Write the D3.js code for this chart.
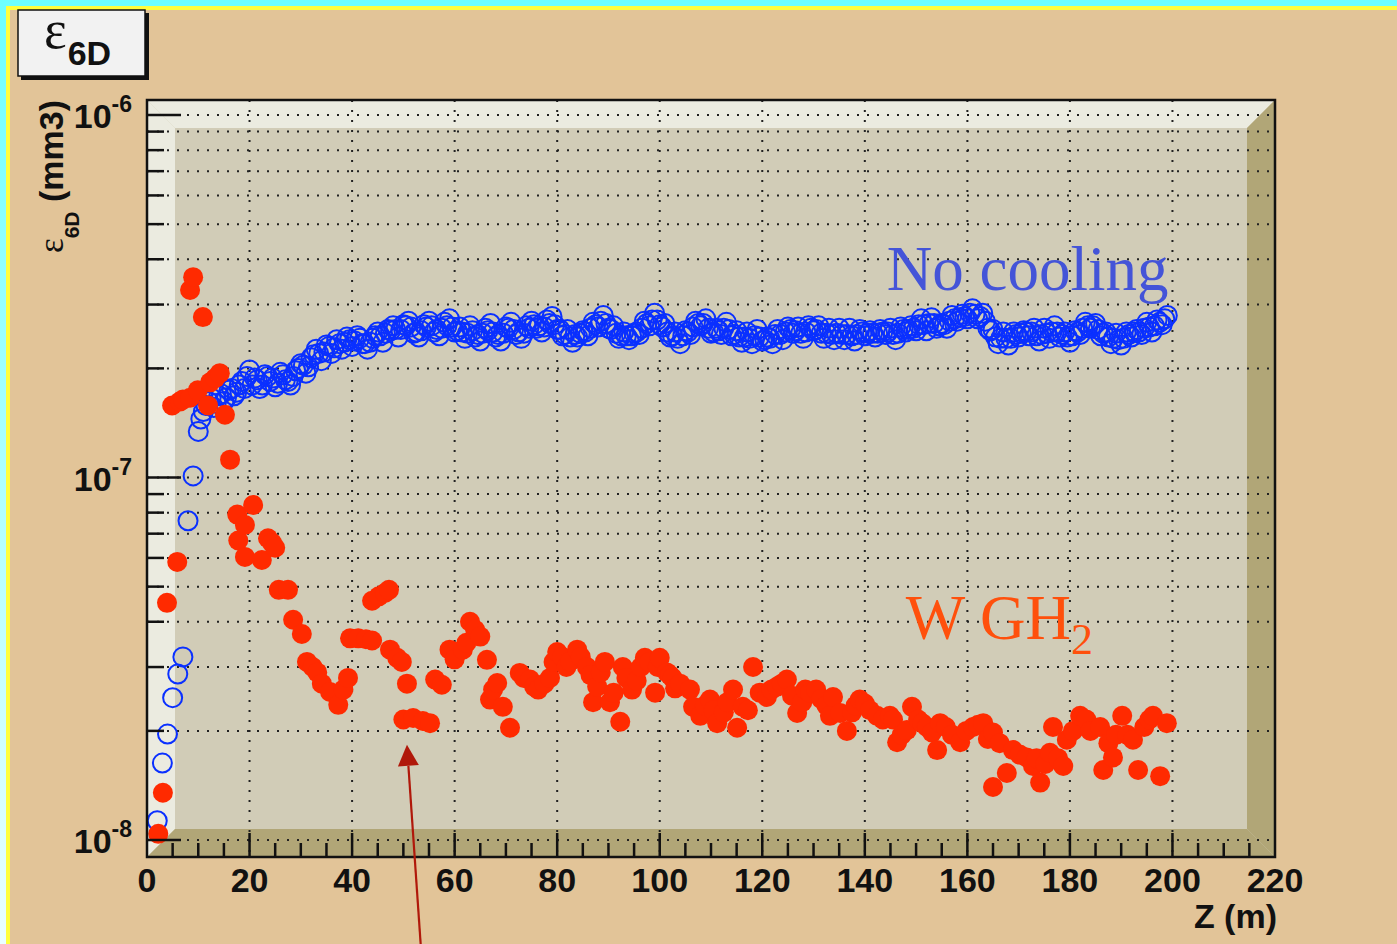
<!DOCTYPE html>
<html>
<head>
<meta charset="utf-8">
<script src="https://cdn.jsdelivr.net/npm/d3@7"></script>
<style>
html, body { margin: 0; padding: 0; background: #e2c498; }
svg { display: block; }
</style>
</head>
<body>
<svg id="chart" width="1397" height="944"></svg>
<script>
// values are in units of 1e-7 mm3
const unit = 1e-7;

// "No cooling": one point per metre from z = 2 to 199
const blueZ = d3.range(2, 200);
const blueV = [
  0.113, 0.163, 0.196, 0.247, 0.287, 0.32, 0.76, 1.01, 1.34,
  1.52, 1.62, 1.56, 1.68, 1.62, 1.74, 1.68, 1.80, 1.76, 1.98,
  1.88, 1.76, 1.92, 1.84, 1.78, 1.95, 1.86, 1.80, 1.97, 2.06,
  1.94, 2.14, 2.26, 2.10, 2.32, 2.20, 2.40, 2.26, 2.44, 2.30,
  2.46, 2.34, 2.26, 2.42, 2.52, 2.36, 2.56, 2.62, 2.44, 2.64,
  2.70, 2.50, 2.44, 2.64, 2.70, 2.52, 2.46, 2.68, 2.74, 2.52,
  2.60, 2.42, 2.62, 2.44, 2.38, 2.58, 2.66, 2.44, 2.38, 2.60,
  2.68, 2.48, 2.42, 2.62, 2.70, 2.58, 2.52, 2.72, 2.78, 2.56,
  2.46, 2.56, 2.36, 2.44, 2.54, 2.46, 2.68, 2.60, 2.80, 2.58,
  2.62, 2.42, 2.52, 2.40, 2.50, 2.48, 2.70, 2.62, 2.84, 2.64,
  2.66, 2.44, 2.52, 2.34, 2.54, 2.48, 2.70, 2.62, 2.74, 2.50,
  2.58, 2.48, 2.68, 2.46, 2.54, 2.36, 2.52, 2.34, 2.56, 2.38,
  2.44, 2.34, 2.56, 2.40, 2.60, 2.50, 2.60, 2.42, 2.62, 2.54,
  2.62, 2.42, 2.58, 2.40, 2.58, 2.40, 2.58, 2.38, 2.56, 2.46,
  2.54, 2.44, 2.56, 2.48, 2.58, 2.40, 2.60, 2.52, 2.62, 2.54,
  2.74, 2.54, 2.76, 2.58, 2.66, 2.58, 2.80, 2.70, 2.82, 2.74,
  2.92, 2.74, 2.84, 2.58, 2.56, 2.34, 2.52, 2.32, 2.52, 2.44,
  2.54, 2.46, 2.58, 2.38, 2.58, 2.42, 2.62, 2.44, 2.52, 2.36,
  2.54, 2.48, 2.68, 2.58, 2.66, 2.46, 2.52, 2.34, 2.50, 2.32,
  2.52, 2.44, 2.56, 2.48, 2.68, 2.52, 2.72, 2.64, 2.80
];
// the in-between half-metre points, z = 10.5 to 198.5
const blueHalfZ = d3.range(10.5, 199, 1);
const blueHalfV = [
  1.45, 1.58, 1.66, 1.60, 1.70, 1.66, 1.76, 1.72, 1.84, 1.90,
  1.80, 1.86, 1.80, 1.90, 1.88, 1.82, 1.92, 1.84, 1.90, 2.00,
  2.04, 2.02, 2.18, 2.20, 2.22, 2.30, 2.28, 2.34, 2.36, 2.40,
  2.38, 2.42, 2.34, 2.36, 2.46, 2.46, 2.50, 2.54, 2.56, 2.56,
  2.62, 2.60, 2.52, 2.54, 2.60, 2.62, 2.56, 2.58, 2.62, 2.60,
  2.54, 2.52, 2.50, 2.54, 2.48, 2.50, 2.54, 2.52, 2.48, 2.50,
  2.58, 2.56, 2.52, 2.50, 2.58, 2.64, 2.62, 2.60, 2.66, 2.64,
  2.56, 2.48, 2.44, 2.48, 2.50, 2.52, 2.58, 2.64, 2.70, 2.66,
  2.56, 2.50, 2.46, 2.46, 2.46, 2.52, 2.58, 2.66, 2.72, 2.72,
  2.60, 2.52, 2.46, 2.42, 2.46, 2.52, 2.60, 2.66, 2.66, 2.58,
  2.52, 2.54, 2.58, 2.56, 2.48, 2.44, 2.44, 2.42, 2.46, 2.44,
  2.40, 2.42, 2.48, 2.48, 2.52, 2.56, 2.54, 2.50, 2.52, 2.58,
  2.56, 2.50, 2.50, 2.48, 2.50, 2.48, 2.48, 2.46, 2.48, 2.52,
  2.50, 2.50, 2.50, 2.52, 2.52, 2.48, 2.50, 2.56, 2.56, 2.58,
  2.64, 2.64, 2.66, 2.66, 2.62, 2.64, 2.70, 2.74, 2.76, 2.78,
  2.84, 2.82, 2.78, 2.70, 2.54, 2.44, 2.42, 2.42, 2.42, 2.48,
  2.50, 2.52, 2.52, 2.46, 2.48, 2.50, 2.52, 2.52, 2.48, 2.44,
  2.46, 2.52, 2.58, 2.62, 2.62, 2.56, 2.50, 2.44, 2.42, 2.40,
  2.42, 2.48, 2.52, 2.52, 2.58, 2.60, 2.62, 2.68, 2.74
];

// "W GH2"
const redZ = [
  2.2, 3.1, 3.9, 4.9, 5.9, 6.4, 7.0, 8.4, 8.4, 9.0, 9.9, 10.9, 11.9, 12.3, 13.3, 14.2,
  15.2, 16.2, 17.6, 17.8, 19.1, 19.1, 20.7, 22.4, 23.6, 24.4, 25.0, 25.7, 27.5, 28.5,
  30.2, 31.2, 32.3, 33.2, 34.1, 35.7, 37.3, 38.3, 39.2, 39.6, 41.2, 42.7, 43.9, 43.9,
  45.2, 46.4, 47.2, 47.4, 48.8, 49.7, 50.0, 50.7, 51.9, 53.8, 55.2, 56.2, 57.5, 59.0,
  60.0, 61.6, 62.3, 63.0, 64.0, 65.0, 66.3, 66.9, 67.5, 68.3, 69.4, 70.8, 72.7, 73.5,
  74.7, 75.5, 76.3, 77.5, 78.6, 79.3, 80.0, 81.0, 81.8, 82.5, 83.9, 84.6, 85.8, 86.5,
  87.0, 87.8, 88.5, 89.3, 90.3, 91.0, 92.3, 92.8, 93.5, 94.6, 95.5, 96.3, 97.1, 98.0,
  99.1, 99.6, 100.0, 101.4, 102.0, 102.5, 103.0, 104.0, 105.9, 106.5, 107.9, 108.8,
  109.8, 110.5, 111.2, 112.5, 113.2, 114.3, 115.1, 116.2, 117.2, 118.2, 119.5, 120.9,
  121.8, 122.9, 123.8, 124.8, 125.8, 126.8, 127.8, 128.4, 129.3, 130.5, 131.5, 132.5,
  133.2, 133.8, 135.2, 136.5, 137.5, 138.2, 139.0, 140.0, 141.0, 142.4, 143.5, 144.9,
  145.5, 146.3, 147.2, 148.2, 149.2, 150.4, 151.2, 152.1, 153.1, 154.1, 154.7, 155.8,
  157.0, 158.6, 159.8, 161.1, 162.1, 163.1, 164.0, 165.0, 165.0, 166.3, 167.7, 168.9,
  170.2, 171.6, 172.8, 173.5, 174.2, 175.2, 176.1, 176.7, 177.7, 178.7, 179.4, 180.6,
  182.0, 183.2, 184.0, 185.9, 186.5, 187.5, 188.4, 189.0, 190.2, 191.2, 192.3, 193.3,
  194.5, 195.5, 196.2, 197.6, 198.9
];
const redV = [
  0.104, 0.135, 0.451, 1.58, 0.585, 1.62, 1.64, 1.66, 3.29, 3.57, 1.74, 2.77, 1.58, 1.83, 1.88, 1.94,
  1.49, 1.12, 0.79, 0.67, 0.74, 0.604, 0.84, 0.592, 0.68, 0.66, 0.64, 0.49, 0.49, 0.405,
  0.37, 0.31, 0.30, 0.29, 0.27, 0.256, 0.236, 0.26, 0.28, 0.36, 0.36, 0.358, 0.355, 0.457,
  0.47, 0.48, 0.49, 0.335, 0.318, 0.31, 0.215, 0.27, 0.217, 0.213, 0.21, 0.277, 0.268, 0.335,
  0.315, 0.335, 0.35, 0.40, 0.38, 0.364, 0.314, 0.244, 0.26, 0.271, 0.233, 0.204, 0.289, 0.28,
  0.277, 0.265, 0.26, 0.27, 0.28, 0.31, 0.33, 0.32, 0.30, 0.311, 0.335, 0.32, 0.30, 0.285,
  0.24, 0.265, 0.29, 0.31, 0.24, 0.255, 0.212, 0.30, 0.28, 0.26, 0.275, 0.30, 0.318, 0.31,
  0.255, 0.30, 0.318, 0.29, 0.285, 0.28, 0.262, 0.27, 0.26, 0.233, 0.22, 0.235,
  0.244, 0.228, 0.21, 0.225, 0.24, 0.26, 0.204, 0.233, 0.228, 0.30, 0.255, 0.248,
  0.26, 0.265, 0.27, 0.277, 0.25, 0.224, 0.24, 0.26, 0.255, 0.26, 0.245, 0.235,
  0.22, 0.248, 0.224, 0.200, 0.225, 0.235, 0.244, 0.238, 0.228, 0.22, 0.215, 0.22,
  0.215, 0.186, 0.195, 0.201, 0.233, 0.215, 0.21, 0.205, 0.198, 0.177, 0.21, 0.205,
  0.195, 0.186, 0.20, 0.205, 0.208, 0.21, 0.19, 0.198, 0.14, 0.185, 0.153, 0.177,
  0.172, 0.169, 0.16, 0.168, 0.144, 0.162, 0.174, 0.205, 0.168, 0.16, 0.189, 0.20,
  0.22, 0.215, 0.20, 0.205, 0.156, 0.185, 0.169, 0.195, 0.22, 0.195, 0.189, 0.156,
  0.205, 0.215, 0.22, 0.15, 0.21
];

const xTickLabels = ["0", "20", "40", "60", "80", "100", "120", "140", "160", "180", "200", "220"];
const yDecades = [-8, -7, -6];

// annotations, in data coordinates
const noCoolingPos = [144.3, 3.29e-7];
const wgh2Pos = [148.0, 3.58e-8];
const arrowFrom = [53.4, 5.1e-9];
const arrowTo = [50.7, 1.83e-8];

const width = 1397, height = 944;
const frame = { left: 147, right: 1275, top: 100, bottom: 857 };
const bevel = 28;
const sans = "'Liberation Sans', Arial, Helvetica, sans-serif";
const serif = "'Liberation Serif', 'Times New Roman', serif";

const svg = d3.select("#chart");

const x = d3.scaleLinear().domain([0, 220]).range([frame.left, frame.right]);
const y = d3.scaleLog()
    .domain([Math.pow(10, -8.0469), Math.pow(10, -5.9586)])
    .range([frame.bottom, frame.top]);

// page background: cyan edge, yellow line, tan fill
const defs = svg.append("defs");
const grad = defs.append("linearGradient").attr("id", "edge")
    .attr("x1", 0).attr("y1", 0).attr("x2", 0).attr("y2", 1);
grad.append("stop").attr("offset", "0%").attr("stop-color", "#6cffff");
grad.append("stop").attr("offset", "100%").attr("stop-color", "#eaffff");

svg.append("rect").attr("width", width).attr("height", height).attr("fill", "url(#edge)");
svg.append("rect").attr("x", 6).attr("y", 6).attr("width", width).attr("height", height).attr("fill", "#ffff3c");
svg.append("rect").attr("x", 10).attr("y", 10).attr("width", width).attr("height", height).attr("fill", "#e2c498");

defs.append("clipPath").attr("id", "plotclip")
    .append("rect")
    .attr("x", frame.left).attr("y", frame.top)
    .attr("width", frame.right - frame.left).attr("height", frame.bottom - frame.top);

// frame with raised 3D bevel
const L = frame.left, R = frame.right, T = frame.top, B = frame.bottom;
svg.append("rect").attr("x", L).attr("y", T).attr("width", R - L).attr("height", B - T).attr("fill", "#d1ccb7");
const poly = (pts, fill) => svg.append("polygon").attr("points", pts.map(p => p.join(",")).join(" ")).attr("fill", fill);
poly([[L, T], [R, T], [R - bevel, T + bevel], [L + bevel, T + bevel]], "#ebebe0");
poly([[L, T], [L + bevel, T + bevel], [L + bevel, B - bevel], [L, B]], "#ebebe0");
poly([[L, B], [L + bevel, B - bevel], [R - bevel, B - bevel], [R, B]], "#b1a677");
poly([[R, T], [R, B], [R - bevel, B - bevel], [R - bevel, T + bevel]], "#b1a677");

// grid
const yTicks = y.ticks().filter(t => y(t) < B - 3 && y(t) > T + 3);
const grid = svg.append("g").attr("stroke", "#222").attr("stroke-width", 2).attr("stroke-dasharray", "2,8");
grid.selectAll(".hg").data(yTicks).enter().append("line")
    .attr("x1", L).attr("x2", R)
    .attr("y1", d => y(d)).attr("y2", d => y(d));
const xMajor = x.ticks(11);
grid.selectAll(".vg").data(xMajor.filter(d => d > 0 && d < 220)).enter().append("line")
    .attr("y1", T).attr("y2", B)
    .attr("x1", d => x(d)).attr("x2", d => x(d));

// markers
const plot = svg.append("g").attr("clip-path", "url(#plotclip)");
const bluePts = blueZ.map((z, i) => [z, blueV[i] * unit])
    .concat(blueHalfZ.map((z, i) => [z, blueHalfV[i] * unit]));
plot.append("g").selectAll("circle")
    .data(bluePts)
    .enter().append("circle")
    .attr("cx", d => x(d[0])).attr("cy", d => y(d[1]))
    .attr("r", 9.5)
    .attr("fill", "none")
    .attr("stroke", "#0a30ff")
    .attr("stroke-width", 2);

plot.append("g").selectAll("circle")
    .data(redZ.map((z, i) => [z, redV[i] * unit]))
    .enter().append("circle")
    .attr("cx", d => x(d[0])).attr("cy", d => y(d[1]))
    .attr("r", 10)
    .attr("fill", "#ff2a00");

// frame border
svg.append("rect").attr("x", L).attr("y", T).attr("width", R - L).attr("height", B - T)
    .attr("fill", "none").attr("stroke", "#111").attr("stroke-width", 2.5);

// y ticks
const isMajorY = t => Math.abs(Math.log10(t) - Math.round(Math.log10(t))) < 1e-6;
svg.append("g").selectAll("line").data(yTicks).enter().append("line")
    .attr("x1", L).attr("x2", d => L + (isMajorY(d) ? 34 : 17))
    .attr("y1", d => y(d)).attr("y2", d => y(d))
    .attr("stroke", "#111").attr("stroke-width", 2.5);

// x ticks
const xMinor = x.ticks(44);
svg.append("g").selectAll("line").data(xMinor.filter(d => d > 0 && d < 220)).enter().append("line")
    .attr("x1", d => x(d)).attr("x2", d => x(d))
    .attr("y1", B).attr("y2", d => B - (d % 20 === 0 ? 24 : 14))
    .attr("stroke", "#111").attr("stroke-width", 2.5);

// x tick labels
svg.append("g").selectAll("text").data(xMajor).enter().append("text")
    .attr("x", d => x(d)).attr("y", 892)
    .attr("text-anchor", "middle")
    .attr("font-family", sans).attr("font-weight", "bold").attr("font-size", 34)
    .attr("fill", "#111")
    .text((d, i) => xTickLabels[i]);

// y tick labels 10^n
const yl = svg.append("g").selectAll("text").data(yDecades).enter().append("text")
    .attr("x", 132).attr("y", d => y(Math.pow(10, d)) + 13)
    .attr("text-anchor", "end")
    .attr("font-family", sans).attr("font-weight", "bold")
    .attr("fill", "#111");
yl.append("tspan").attr("font-size", 34).text("10");
yl.append("tspan").attr("font-size", 23).attr("dy", -16).text(d => String(d));

// axis titles
svg.append("text")
    .attr("x", R + 2).attr("y", 928)
    .attr("text-anchor", "end")
    .attr("font-family", sans).attr("font-weight", "bold").attr("font-size", 34)
    .attr("fill", "#111")
    .text("Z (m)");

const yt = svg.append("text")
    .attr("transform", "translate(63," + T + ") rotate(-90)")
    .attr("text-anchor", "end")
    .attr("fill", "#111");
yt.append("tspan").attr("font-family", serif).attr("font-size", 35).text("\u03b5");
yt.append("tspan").attr("font-family", sans).attr("font-weight", "bold").attr("font-size", 21).attr("dy", 16).text("6D");
yt.append("tspan").attr("font-family", sans).attr("font-weight", "bold").attr("font-size", 34).attr("dy", -16).text(" (mm3)");

// title box
svg.append("rect").attr("x", 21).attr("y", 13).attr("width", 128).attr("height", 67).attr("fill", "#111");
svg.append("rect").attr("x", 18).attr("y", 10).attr("width", 127).attr("height", 66)
    .attr("fill", "#f2f2f2").attr("stroke", "#111").attr("stroke-width", 1.5);
const tt = svg.append("text").attr("x", 44).attr("y", 48).attr("fill", "#111");
tt.append("tspan").attr("font-family", serif).attr("font-size", 54).text("\u03b5");
tt.append("tspan").attr("font-family", sans).attr("font-weight", "bold").attr("font-size", 34).attr("dy", 17).attr("dx", 1).text("6D");

// labels inside the plot
svg.append("text")
    .attr("x", x(noCoolingPos[0])).attr("y", y(noCoolingPos[1]))
    .attr("font-family", serif).attr("font-size", 63)
    .attr("fill", "#4454d8")
    .text("No cooling");

const wl = svg.append("text")
    .attr("x", x(wgh2Pos[0])).attr("y", y(wgh2Pos[1]))
    .attr("font-family", serif).attr("font-size", 63)
    .attr("fill", "#ff500c");
wl.append("tspan").text("W GH");
wl.append("tspan").attr("font-size", 44).attr("dy", 15).text("2");

// arrow
const ax1 = x(arrowFrom[0]), ay1 = y(arrowFrom[1]);
const ax2 = x(arrowTo[0]), ay2 = y(arrowTo[1]);
const ang = Math.atan2(ay2 - ay1, ax2 - ax1);
const headLen = 21, headHalf = 10.5;
const bx = ax2 - headLen * Math.cos(ang), by = ay2 - headLen * Math.sin(ang);
svg.append("line")
    .attr("x1", ax1).attr("y1", ay1).attr("x2", bx).attr("y2", by)
    .attr("stroke", "#b0180a").attr("stroke-width", 2.2);
svg.append("polygon")
    .attr("points", [
        [ax2, ay2],
        [bx + headHalf * Math.sin(ang), by - headHalf * Math.cos(ang)],
        [bx - headHalf * Math.sin(ang), by + headHalf * Math.cos(ang)]
    ].map(p => p.join(",")).join(" "))
    .attr("fill", "#b0180a");
</script>
</body>
</html>
